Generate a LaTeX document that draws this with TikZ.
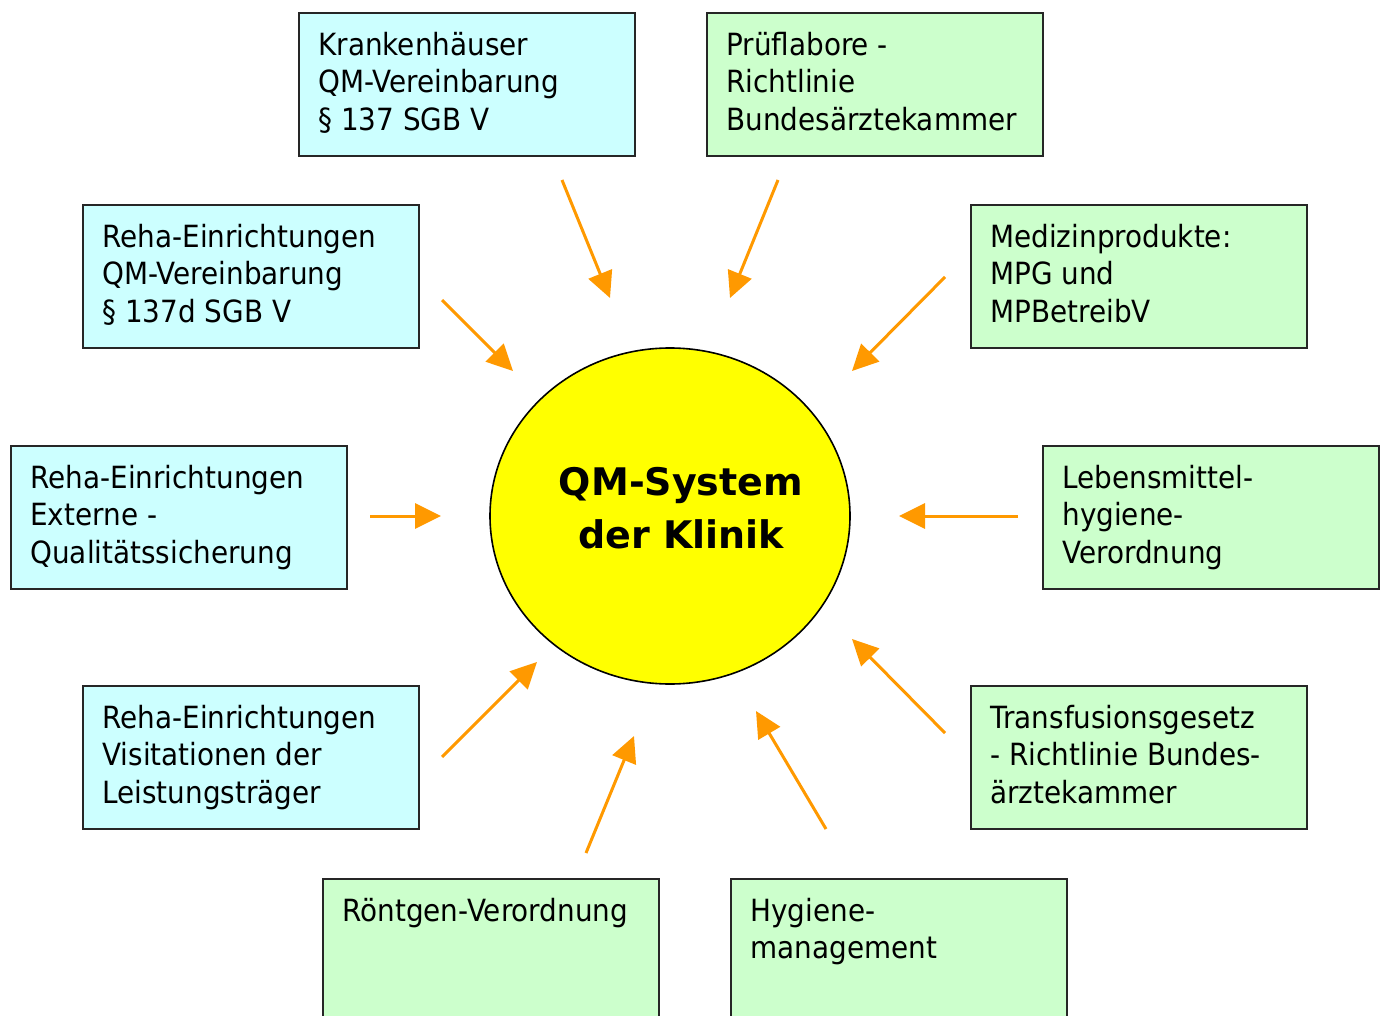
\documentclass[tikz,border=0pt]{standalone}
\usepackage{fontspec}
\setmainfont{DejaVu Sans}[FakeStretch=0.91]
\newfontfamily\titlefont{DejaVu Sans}
\usetikzlibrary{arrows.meta,shapes.geometric}
\definecolor{boxcyan}{HTML}{CCFFFF}
\definecolor{boxgreen}{HTML}{CCFFCC}
\definecolor{qmyellow}{HTML}{FFFF00}
\definecolor{arrorange}{HTML}{FF9900}
\tikzset{
  box/.style={draw=black!85, line width=1pt, rectangle, minimum width=168pt, minimum height=71.5pt, inner sep=0pt, anchor=north west},
  cyanbox/.style={box, fill=boxcyan},
  greenbox/.style={box, fill=boxgreen},
  txt/.style={anchor=north west, inner sep=0pt, align=left, font=\fontsize{15.3}{18.75}\selectfont},
  inarrow/.style={draw=arrorange, line width=1.5pt, -{Triangle[length=13pt,width=12.5pt]}},
}
\newcommand{\fl}{\rule{0pt}{15pt}}
\begin{document}
\begin{tikzpicture}[x=0.5pt,y=-0.5pt]
\useasboundingbox (0,0) rectangle (1382,1016);
\clip (0,0) rectangle (1382,1016);
% boxes
\node[cyanbox]  (b1)  at (298,12)   {};
\node[greenbox] (b2)  at (706,12)   {};
\node[cyanbox]  (b3)  at (82,204)   {};
\node[greenbox] (b4)  at (970,204)  {};
\node[cyanbox]  (b5)  at (10,445)   {};
\node[greenbox] (b6)  at (1042,445) {};
\node[cyanbox]  (b7)  at (82,685)   {};
\node[greenbox] (b8)  at (970,685)  {};
\node[greenbox] (b9)  at (322,878)  {};
\node[greenbox] (b10) at (730,878)  {};
% texts
\node[txt] (t1)  at ([xshift=10pt,yshift=-6.5pt]b1.north west)  {\fl Krankenhäuser\\QM-Vereinbarung\\§ 137 SGB V};
\node[txt] (t2)  at ([xshift=10pt,yshift=-6.5pt]b2.north west)  {\fl Prüflabore -\\Richtlinie\\Bundesärztekammer};
\node[txt] (t3)  at ([xshift=10pt,yshift=-6.5pt]b3.north west)  {\fl Reha-Einrichtungen\\QM-Vereinbarung\\§ 137d SGB V};
\node[txt] (t4)  at ([xshift=10pt,yshift=-6.5pt]b4.north west)  {\fl Medizinprodukte:\\MPG und\\MPBetreibV};
\node[txt] (t5)  at ([xshift=10pt,yshift=-6.5pt]b5.north west)  {\fl Reha-Einrichtungen\\Externe -\\Qualitätssicherung};
\node[txt] (t6)  at ([xshift=10pt,yshift=-6.5pt]b6.north west)  {\fl Lebensmittel-\\hygiene-\\Verordnung};
\node[txt] (t7)  at ([xshift=10pt,yshift=-6.5pt]b7.north west)  {\fl Reha-Einrichtungen\\Visitationen der\\Leistungsträger};
\node[txt] (t8)  at ([xshift=10pt,yshift=-6.5pt]b8.north west)  {\fl Transfusionsgesetz\\- Richtlinie Bundes-\\ärztekammer};
\node[txt] (t9)  at ([xshift=10pt,yshift=-6.5pt]b9.north west)  {\fl Röntgen-Verordnung};
\node[txt] (t10) at ([xshift=10pt,yshift=-6.5pt]b10.north west) {\fl Hygiene-\\management};
% centre
\node[ellipse, draw=black, line width=0.8pt, fill=qmyellow, minimum width=180pt, minimum height=168pt, inner sep=0pt] (qm) at (670,516) {};
\node[align=center, inner sep=0pt, font=\titlefont\bfseries\fontsize{19}{26.5}\selectfont] (qmt) at (681,508) {QM-System\\der Klinik};
% arrow coordinates
\coordinate (s1) at (562,180);  \coordinate (e1) at (610,298);
\coordinate (s2) at (778,180);  \coordinate (e2) at (730,298);
\coordinate (s3) at (442,300);  \coordinate (e3) at (513,371);
\coordinate (s4) at (945,277);  \coordinate (e4) at (852,371);
\coordinate (s5) at (370,516);  \coordinate (e5) at (441,516);
\coordinate (s6) at (1018,516); \coordinate (e6) at (899,516);
\coordinate (s7) at (442,757);  \coordinate (e7) at (537,662);
\coordinate (s8) at (945,733);  \coordinate (e8) at (852,639);
\coordinate (s9) at (586,853);  \coordinate (e9) at (634,736);
\coordinate (s10) at (826,829); \coordinate (e10) at (756,711);
\foreach \i in {1,...,10} {\draw[inarrow] (s\i) -- (e\i);}
\end{tikzpicture}
\end{document}
